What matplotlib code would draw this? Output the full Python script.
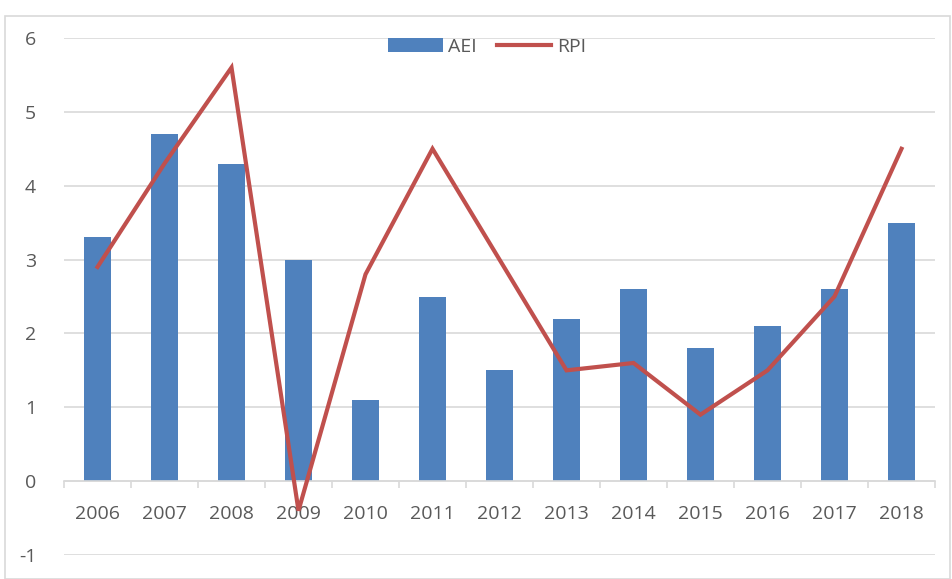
import matplotlib.pyplot as plt
from matplotlib.patches import Rectangle
import numpy as np

years = ["2006", "2007", "2008", "2009", "2010", "2011", "2012",
         "2013", "2014", "2015", "2016", "2017", "2018"]
aei = [3.3, 4.7, 4.3, 3.0, 1.1, 2.5, 1.5, 2.2, 2.6, 1.8, 2.1, 2.6, 3.5]
rpi = [2.9, 4.3, 5.6, -0.4, 2.8, 4.5, 3.0, 1.5, 1.6, 0.9, 1.5, 2.5, 4.5]

BAR_COLOR = "#4F81BD"
LINE_COLOR = "#C0504D"
TEXT_COLOR = "#595959"
GRID_COLOR = "#D9D9D9"

plt.rcParams["font.family"] = ["Open Sans", "DejaVu Sans"]
plt.rcParams["axes.unicode_minus"] = False

fig = plt.figure(figsize=(9.52, 5.79), dpi=100)
ax = fig.add_axes([64 / 952, 24 / 579, 871 / 952, 517 / 579])

x = np.arange(len(years))
bars = ax.bar(x, aei, width=0.4, color=BAR_COLOR, label="AEI", zorder=2)
line, = ax.plot(x, rpi, color=LINE_COLOR, linewidth=3, label="RPI", zorder=3,
                solid_joinstyle="miter")

ax.set_xlim(-0.5, len(years) - 0.5)
ax.set_ylim(-1, 6)
ax.set_yticks(range(-1, 7))
ax.grid(axis="y", color=GRID_COLOR, linewidth=1.2, zorder=0)

for side in ["top", "right", "left"]:
    ax.spines[side].set_visible(False)
ax.spines["bottom"].set_position(("data", 0))
ax.spines["bottom"].set_color(GRID_COLOR)
ax.spines["bottom"].set_linewidth(1.2)

ax.set_xticks(x)
ax.set_xticklabels(years)
ax.set_xticks(np.arange(-0.5, len(years)), minor=True)
ax.tick_params(axis="x", which="major", length=0, pad=17, labelsize=14,
               labelcolor=TEXT_COLOR)
ax.tick_params(axis="x", which="minor", length=5, color=GRID_COLOR, width=1.2)
ax.tick_params(axis="y", length=0, pad=20, labelsize=14, labelcolor=TEXT_COLOR)

fig.legend([bars, line], ["AEI", "RPI"], loc="center",
           bbox_to_anchor=(0.5 + 11 / 952, 1 - 47 / 579), ncol=2,
           frameon=False, fontsize=14, labelcolor=TEXT_COLOR,
           handlelength=2.8, handletextpad=0.3, columnspacing=1.0)

fig.patches.append(Rectangle((5 / 952, 0), 945 / 952, 1 - 16 / 579,
                             transform=fig.transFigure, fill=False,
                             edgecolor="#D9D9D9", linewidth=1.2))

fig.savefig("out.png", dpi=100)
